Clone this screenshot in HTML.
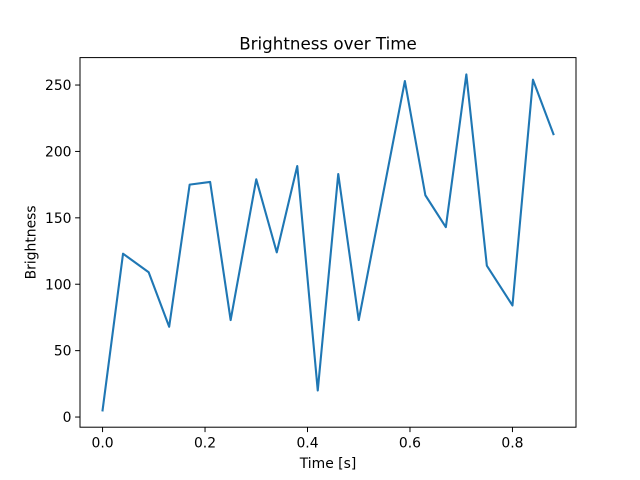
<!DOCTYPE html>
<html><head><meta charset="utf-8"><style>
html,body{margin:0;padding:0;background:#fff;}
svg{display:block;}
text{font-family:"DejaVu Sans","Liberation Sans",sans-serif;fill:#000;}
</style></head><body>
<svg width="640" height="480" viewBox="0 0 640 480" xmlns="http://www.w3.org/2000/svg">
<rect width="640" height="480" fill="#fff"/>
<polyline fill="none" stroke="#1f77b4" stroke-width="2.1" stroke-linejoin="round" stroke-linecap="square" points="102.55,410.40 123.04,253.69 148.66,272.28 169.16,326.73 189.65,184.63 210.15,181.97 230.64,320.09 256.26,179.32 276.76,252.36 297.26,166.04 317.75,390.48 338.25,174.01 358.74,320.09 404.86,81.04 425.35,195.25 445.85,227.17 466.34,74.40 486.84,265.64 512.46,305.48 532.96,79.71 553.45,134.16"/>
<rect x="80" y="57.6" width="496" height="369.6" fill="none" stroke="#000" stroke-width="1"/>
<g stroke="#000" stroke-width="1">
<line x1="102.55" y1="427.2" x2="102.55" y2="432.1"/>
<line x1="205.03" y1="427.2" x2="205.03" y2="432.1"/>
<line x1="307.51" y1="427.2" x2="307.51" y2="432.1"/>
<line x1="409.98" y1="427.2" x2="409.98" y2="432.1"/>
<line x1="512.46" y1="427.2" x2="512.46" y2="432.1"/>
<line x1="80" y1="417.04" x2="75.1" y2="417.04"/>
<line x1="80" y1="350.64" x2="75.1" y2="350.64"/>
<line x1="80" y1="284.23" x2="75.1" y2="284.23"/>
<line x1="80" y1="217.83" x2="75.1" y2="217.83"/>
<line x1="80" y1="151.43" x2="75.1" y2="151.43"/>
<line x1="80" y1="85.03" x2="75.1" y2="85.03"/>
</g>
<g font-size="13.9" text-anchor="middle">
<text x="102.55" y="447.5">0.0</text>
<text x="205.03" y="447.5">0.2</text>
<text x="307.51" y="447.5">0.4</text>
<text x="409.98" y="447.5">0.6</text>
<text x="512.46" y="447.5">0.8</text>
</g>
<g font-size="13.9" text-anchor="end">
<text x="71.5" y="422.1">0</text>
<text x="71.5" y="355.7">50</text>
<text x="71.5" y="289.3">100</text>
<text x="71.5" y="222.9">150</text>
<text x="71.5" y="156.5">200</text>
<text x="71.5" y="90.1">250</text>
</g>
<text x="328" y="468" font-size="13.9" text-anchor="middle">Time [s]</text>
<text transform="translate(35.5,242.4) rotate(-90)" font-size="13.9" text-anchor="middle">Brightness</text>
<text x="328" y="49.3" font-size="16.7" text-anchor="middle">Brightness over Time</text>
</svg>
</body></html>
